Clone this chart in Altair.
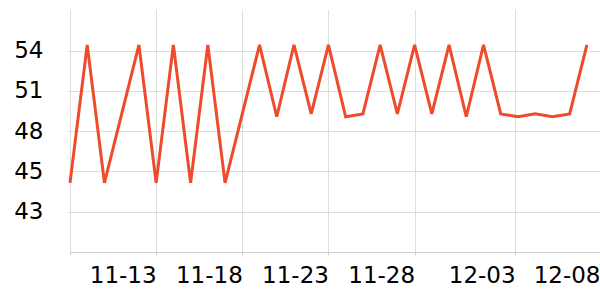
import altair as alt
import pandas as pd

# data
dates = ["11-08", "11-09", "11-10", "11-12", "11-13", "11-14", "11-15", "11-16", "11-17",
         "11-19", "11-20", "11-21", "11-22", "11-23", "11-24", "11-25", "11-26", "11-27",
         "11-28", "11-29", "11-30", "12-01", "12-02", "12-03", "12-04", "12-05", "12-06",
         "12-07", "12-08"]
values = [44.6, 54.2, 44.6, 54.2, 44.6, 54.2, 44.6, 54.2, 44.6,
          54.2, 49.2, 54.2, 49.4, 54.2, 49.2, 49.4, 54.2, 49.4,
          54.2, 49.4, 54.2, 49.2, 54.2, 49.4, 49.2, 49.4, 49.2,
          49.4, 54.2]
year = 2024

y_ticks = [42.6, 45.4, 48.2, 51.0, 53.8]
y_domain = [39.8, 56.62]
x_ticks = ["11-08T00:00", "11-13T00:00", "11-18T00:00", "11-23T00:00",
           "11-28T00:00", "12-03T20:00", "12-08T18:15"]
x_domain = ["11-08T00:00", "12-08T18:15"]


def iso(md):
    if "T" not in md:
        md = md + "T00:00"
    return f"{year}-{md}:00Z"


def ms(md):
    return int(pd.Timestamp(iso(md)).timestamp() * 1000)


df = pd.DataFrame({"date": [iso(d) for d in dates], "value": values})

chart = (
    alt.Chart(df)
    .mark_line(color="#ee4a2b", strokeWidth=3, strokeJoin="miter", clip=False)
    .encode(
        x=alt.X(
            "date:T",
            scale=alt.Scale(type="utc", domain=[ms(d) for d in x_domain]),
            axis=alt.Axis(
                title=None,
                values=[ms(d) for d in x_ticks],
                labelExpr="datum.index == 0 ? '' : utcFormat(datum.value, '%m-%d')",
                labelAlign="right",
                labelBaseline="alphabetic",
                labelPadding=27,
                tickSize=3,
                tickColor="#cccccc",
                domainColor="#cccccc",
                gridColor="#dddddd",
                labelFlush=False,
                labelOverlap=False,
            ),
        ),
        y=alt.Y(
            "value:Q",
            scale=alt.Scale(domain=y_domain, nice=False, zero=False),
            axis=alt.Axis(
                title=None,
                values=y_ticks,
                format=".0f",
                domain=False,
                tickSize=2,
                tickColor="#dddddd",
                labelPadding=25,
                gridColor="#dddddd",
            ),
        ),
    )
    .properties(
        width=530,
        height=242,
        autosize=alt.AutoSizeParams(type="none"),
        padding={"left": 70, "top": 10, "right": 0, "bottom": 48},
    )
    .configure_view(stroke=None)
    .configure_axis(
        labelFont="DejaVu Sans",
        labelFontSize=23,
        labelColor="#000000",
        gridWidth=1,
    )
)

chart.save("out.html", embed_options={"renderer": "svg", "actions": False})
